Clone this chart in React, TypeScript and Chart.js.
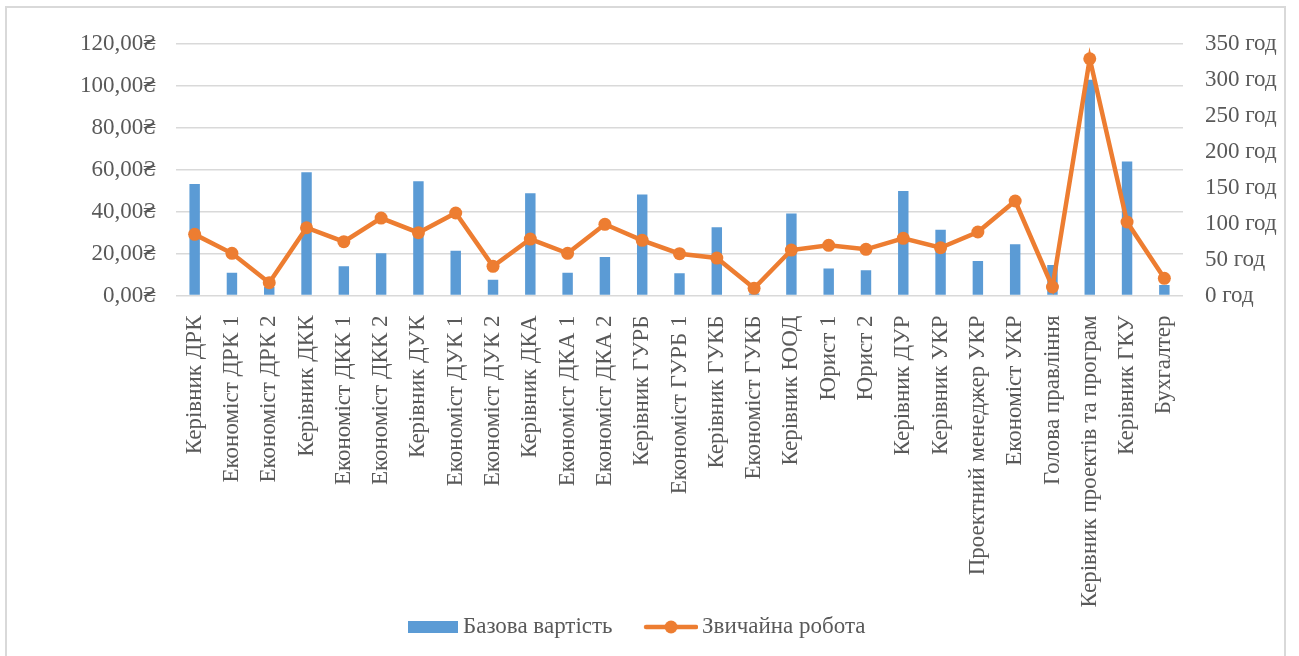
import React, { useEffect, useRef } from "react";
import { Chart, registerables } from "chart.js";

Chart.register(...registerables);

const categories: string[] = [
  "Керівник ДРК",
  "Економіст ДРК 1",
  "Економіст ДРК 2",
  "Керівник ДКК",
  "Економіст ДКК 1",
  "Економіст ДКК 2",
  "Керівник ДУК",
  "Економіст ДУК 1",
  "Економіст ДУК 2",
  "Керівник ДКА",
  "Економіст ДКА 1",
  "Економіст ДКА 2",
  "Керівник ГУРБ",
  "Економіст ГУРБ 1",
  "Керівник ГУКБ",
  "Економіст ГУКБ",
  "Керівник ЮОД",
  "Юрист 1",
  "Юрист 2",
  "Керівник ДУР",
  "Керівник УКР",
  "Проектний менеджер УКР",
  "Економіст УКР",
  "Голова правління",
  "Керівник проектів та програм",
  "Керівник ГКУ",
  "Бухгалтер",
];

// Base cost, hryvnia (left axis)
const baseCost: number[] = [
  53.1, 10.9, 4.0, 58.8, 13.9, 20.1, 54.5, 21.3, 7.5, 48.8, 10.9, 18.3, 48.2,
  10.6, 32.5, 1.0, 39.1, 12.9, 12.0, 49.8, 31.3, 16.4, 24.4, 14.5, 102.9, 63.9,
  5.0,
];

// Regular work, hours (right axis)
const regularWork: number[] = [
  85, 58.7, 17.8, 94.2, 74.8, 107.7, 87.3, 114.7, 40.6, 78.5, 58.7, 99, 76.7,
  58.1, 52.1, 10, 63.2, 69.8, 64.2, 79.5, 66.4, 88.3, 131.4, 11.8, 329.2, 102.2,
  23.9,
];

const seriesNames: string[] = ["Базова вартість", "Звичайна робота"];

const BLUE = "#5B9BD5";
const ORANGE = "#ED7D31";
const TEXT = "#595959";
const GRID = "#D9D9D9";
const FONT = "'Liberation Serif', 'Times New Roman', serif";
const FONT_SIZE = 23;
const SWATCH_SLOT = 70; // legend pointStyleWidth

// Legend swatches: drawn into small canvases used as point styles.
// The visible part sits at the right of each canvas, next to the label.
function makeBarSwatch(): HTMLCanvasElement {
  const c = document.createElement("canvas");
  c.width = SWATCH_SLOT + 13;
  c.height = 14;
  const g = c.getContext("2d")!;
  g.fillStyle = BLUE;
  g.fillRect(c.width - 50, 1, 50, 12);
  return c;
}

function makeLineSwatch(): HTMLCanvasElement {
  const c = document.createElement("canvas");
  c.width = SWATCH_SLOT + 15;
  c.height = 16;
  const g = c.getContext("2d")!;
  const x0 = c.width - 52;
  const x1 = c.width - 2;
  g.strokeStyle = ORANGE;
  g.lineWidth = 4.5;
  g.lineCap = "round";
  g.beginPath();
  g.moveTo(x0, 8);
  g.lineTo(x1, 8);
  g.stroke();
  g.fillStyle = ORANGE;
  g.beginPath();
  g.arc((x0 + x1) / 2, 8, 6.5, 0, Math.PI * 2);
  g.fill();
  return c;
}

// Nudges the legend block horizontally after layout.
const legendShift = {
  id: "legendShift",
  afterLayout(chart: any) {
    const lg = chart.legend;
    if (!lg) return;
    lg.left -= 22;
    lg.right -= 22;
  },
};

export default function App() {
  const ref = useRef<HTMLCanvasElement | null>(null);

  useEffect(() => {
    if (!ref.current) return;
    const barSwatch = makeBarSwatch();
    const lineSwatch = makeLineSwatch();

    const chart = new Chart(ref.current, {
      type: "bar",
      data: {
        labels: categories,
        datasets: [
          {
            type: "bar",
            label: seriesNames[0],
            data: baseCost,
            backgroundColor: BLUE,
            yAxisID: "y",
            order: 2,
            barPercentage: 0.28,
            categoryPercentage: 1,
          },
          {
            type: "line",
            label: seriesNames[1],
            data: regularWork,
            borderColor: ORANGE,
            backgroundColor: ORANGE,
            borderWidth: 4.5,
            pointRadius: 6.5,
            pointBorderWidth: 0,
            pointBackgroundColor: ORANGE,
            yAxisID: "y1",
            order: 1,
            tension: 0,
          },
        ],
      },
      plugins: [legendShift],
      options: {
        responsive: false,
        animation: false,
        layout: { padding: { top: 0, bottom: 9.5, left: 0, right: 0 } },
        plugins: {
          tooltip: { enabled: false },
          legend: {
            position: "bottom",
            labels: {
              usePointStyle: true,
              pointStyleWidth: SWATCH_SLOT,
              padding: 8,
              color: TEXT,
              font: { family: FONT, size: FONT_SIZE },
              generateLabels: () => [
                {
                  text: seriesNames[0],
                  pointStyle: barSwatch,
                  fillStyle: BLUE,
                  strokeStyle: BLUE,
                  lineWidth: 0,
                  fontColor: TEXT,
                  datasetIndex: 0,
                  hidden: false,
                },
                {
                  text: seriesNames[1],
                  pointStyle: lineSwatch,
                  fillStyle: ORANGE,
                  strokeStyle: ORANGE,
                  lineWidth: 0,
                  fontColor: TEXT,
                  datasetIndex: 1,
                  hidden: false,
                },
              ],
            },
          },
        },
        scales: {
          x: {
            grid: { display: false },
            border: { display: false },
            ticks: {
              autoSkip: false,
              maxRotation: 90,
              minRotation: 90,
              padding: 12,
              color: TEXT,
              font: { family: FONT, size: FONT_SIZE },
            },
            afterFit: (s: any) => {
              s.height = 312;
            },
          },
          y: {
            position: "left",
            min: 0,
            max: 120,
            grid: { color: GRID, lineWidth: 1.5, drawTicks: false },
            border: { display: false },
            ticks: {
              stepSize: 20,
              padding: 20,
              color: TEXT,
              font: { family: FONT, size: FONT_SIZE },
              callback: (v: any) => Number(v).toFixed(2).replace(".", ",") + "₴",
            },
            afterFit: (s: any) => {
              s.width = 169;
            },
          },
          y1: {
            position: "right",
            min: 0,
            max: 350,
            grid: { display: false, drawTicks: false },
            border: { display: false },
            ticks: {
              stepSize: 50,
              padding: 22,
              color: TEXT,
              font: { family: FONT, size: FONT_SIZE },
              callback: (v: any) => v + " год",
            },
            afterFit: (s: any) => {
              s.width = 101;
            },
          },
        },
      },
    });
    return () => chart.destroy();
  }, []);

  return (
    <div
      style={{
        position: "absolute",
        left: 5,
        top: 6,
        width: 1281,
        height: 700,
        boxSizing: "border-box",
        border: "2px solid #D9D9D9",
        background: "#fff",
      }}
    >
      <canvas ref={ref} width={1277} height={650} style={{ display: "block" }} />
    </div>
  );
}
